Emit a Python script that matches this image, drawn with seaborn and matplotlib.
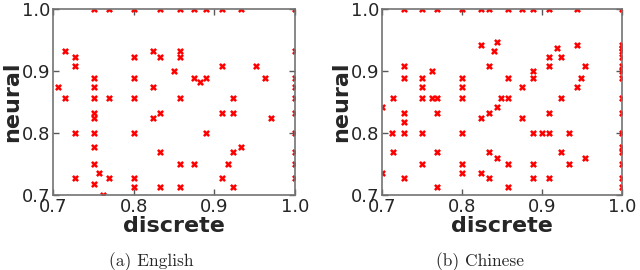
import pandas as pd
import matplotlib
matplotlib.use("Agg")
import matplotlib.pyplot as plt
import seaborn as sns

# accuracy pairs (discrete model vs neural model)
en_discrete = [
    0.75, 0.769, 0.8, 0.833, 0.857, 0.875, 0.889, 0.909, 0.933, 1.0,
    0.714, 0.824, 0.857, 1.0,
    0.727, 0.8, 0.833, 0.857,
    0.727, 0.909, 0.952,
    0.85,
    0.75, 0.8, 0.875, 0.889, 0.963, 1.0,
    0.882,
    0.706, 0.75, 0.824, 1.0,
    0.714, 0.75, 0.769, 0.8, 0.857, 0.923, 1.0,
    0.75, 0.833, 0.909, 0.923, 1.0,
    0.75, 0.824, 0.97,
    0.727, 0.75, 0.8, 0.889, 1.0,
    0.75, 0.933,
    0.833, 0.923, 1.0,
    0.75, 0.857, 0.875, 0.917, 1.0,
    0.757,
    0.727, 0.769, 0.8, 0.909, 1.0,
    0.75,
    0.8, 0.833, 0.857, 0.923,
    0.762,
]
en_neural = [
    1.0, 1.0, 1.0, 1.0, 1.0, 1.0, 1.0, 1.0, 1.0, 1.0,
    0.933, 0.933, 0.933, 0.933,
    0.923, 0.923, 0.923, 0.923,
    0.909, 0.909, 0.909,
    0.9,
    0.889, 0.889, 0.889, 0.889, 0.889, 0.889,
    0.882,
    0.875, 0.875, 0.875, 0.875,
    0.857, 0.857, 0.857, 0.857, 0.857, 0.857, 0.857,
    0.833, 0.833, 0.833, 0.833, 0.833,
    0.824, 0.824, 0.824,
    0.8, 0.8, 0.8, 0.8, 0.8,
    0.778, 0.778,
    0.769, 0.769, 0.769,
    0.75, 0.75, 0.75, 0.75, 0.75,
    0.735,
    0.727, 0.727, 0.727, 0.727, 0.727,
    0.718,
    0.7125, 0.7125, 0.7125, 0.7125,
    0.7,
]

zh_discrete = [
    0.727, 0.75, 0.769, 0.8, 0.824, 0.833, 0.857, 0.875, 0.889, 0.909, 0.943, 1.0,
    0.843,
    0.824, 0.943, 1.0,
    0.918, 1.0,
    0.84, 1.0,
    0.909, 0.923, 1.0,
    0.727, 0.833, 0.909, 0.953, 1.0,
    0.762, 0.889, 1.0,
    0.727, 0.75, 0.8, 0.857, 0.889, 0.948, 1.0,
    0.75, 0.8, 0.875, 0.943,
    0.714, 0.75, 0.762, 0.769, 0.8, 0.849, 0.857, 0.923, 1.0,
    0.7, 0.843,
    0.727, 0.769, 0.833, 0.909, 1.0,
    0.824, 0.875,
    0.727,
    0.712, 0.727, 0.75, 0.8, 0.889, 0.9, 0.909, 0.933, 1.0,
    1.0,
    0.714, 0.769, 0.833, 0.923, 1.0,
    0.843, 0.953,
    0.75, 0.8, 0.857, 0.889, 0.933, 1.0,
    0.7, 0.8, 0.824,
    0.727, 0.833, 0.889, 0.909, 1.0,
    0.769, 0.857, 1.0,
]
zh_neural = [
    1.0, 1.0, 1.0, 1.0, 1.0, 1.0, 1.0, 1.0, 1.0, 1.0, 1.0, 1.0,
    0.947,
    0.942, 0.942, 0.942,
    0.937, 0.937,
    0.933, 0.933,
    0.923, 0.923, 0.923,
    0.909, 0.909, 0.909, 0.909, 0.909,
    0.9, 0.9, 0.9,
    0.889, 0.889, 0.889, 0.889, 0.889, 0.889, 0.889,
    0.875, 0.875, 0.875, 0.875,
    0.857, 0.857, 0.857, 0.857, 0.857, 0.857, 0.857, 0.857, 0.857,
    0.842, 0.842,
    0.833, 0.833, 0.833, 0.833, 0.833,
    0.824, 0.824,
    0.818,
    0.8, 0.8, 0.8, 0.8, 0.8, 0.8, 0.8, 0.8, 0.8,
    0.778,
    0.769, 0.769, 0.769, 0.769, 0.769,
    0.76, 0.76,
    0.75, 0.75, 0.75, 0.75, 0.75, 0.75,
    0.735, 0.735, 0.735,
    0.727, 0.727, 0.727, 0.727, 0.727,
    0.7125, 0.7125, 0.7125,
]

ticks = [0.7, 0.8, 0.9, 1.0]
captions = ["(a) English", "(b) Chinese"]

sns.set_style("white", {"xtick.direction": "in", "ytick.direction": "in"})

fig = plt.figure(figsize=(6.4, 2.7), dpi=100)
ax_en = fig.add_axes([0.0833, 0.2778, 0.3777, 0.6878])
ax_zh = fig.add_axes([0.5973, 0.2778, 0.3750, 0.6878])

panels = [
    (ax_en, pd.DataFrame({"discrete": en_discrete, "neural": en_neural})),
    (ax_zh, pd.DataFrame({"discrete": zh_discrete, "neural": zh_neural})),
]

for ax, df in panels:
    sns.scatterplot(data=df, x="discrete", y="neural", ax=ax, marker="x",
                    color="red", s=14, linewidth=1.8, legend=False)
    ax.set_xlim(0.7, 1.0)
    ax.set_ylim(0.7, 1.0)
    ax.set_xticks(ticks)
    ax.set_yticks(ticks)
    ax.set_xticklabels([f"{t:.1f}" for t in ticks])
    ax.set_yticklabels([f"{t:.1f}" for t in ticks])
    ax.tick_params(axis="both", which="both", direction="in", length=4,
                   width=1, color="0.35", labelsize=13, pad=2,
                   top=True, right=True, bottom=True, left=True)
    for sp in ax.spines.values():
        sp.set_visible(True)
        sp.set_color("0.45")
        sp.set_linewidth(1.2)
    ax.set_xlabel("discrete", fontsize=16, fontweight="bold", labelpad=0)
    ax.set_ylabel("neural", fontsize=16, fontweight="bold", labelpad=0)

fig.text(0.236, 1 - 262 / 270, captions[0], ha="center", va="center",
         fontsize=12.5, family="cmr10")
fig.text(0.75, 1 - 262 / 270, captions[1], ha="center", va="center",
         fontsize=12.5, family="cmr10")

fig.savefig("out.png", dpi=100)
